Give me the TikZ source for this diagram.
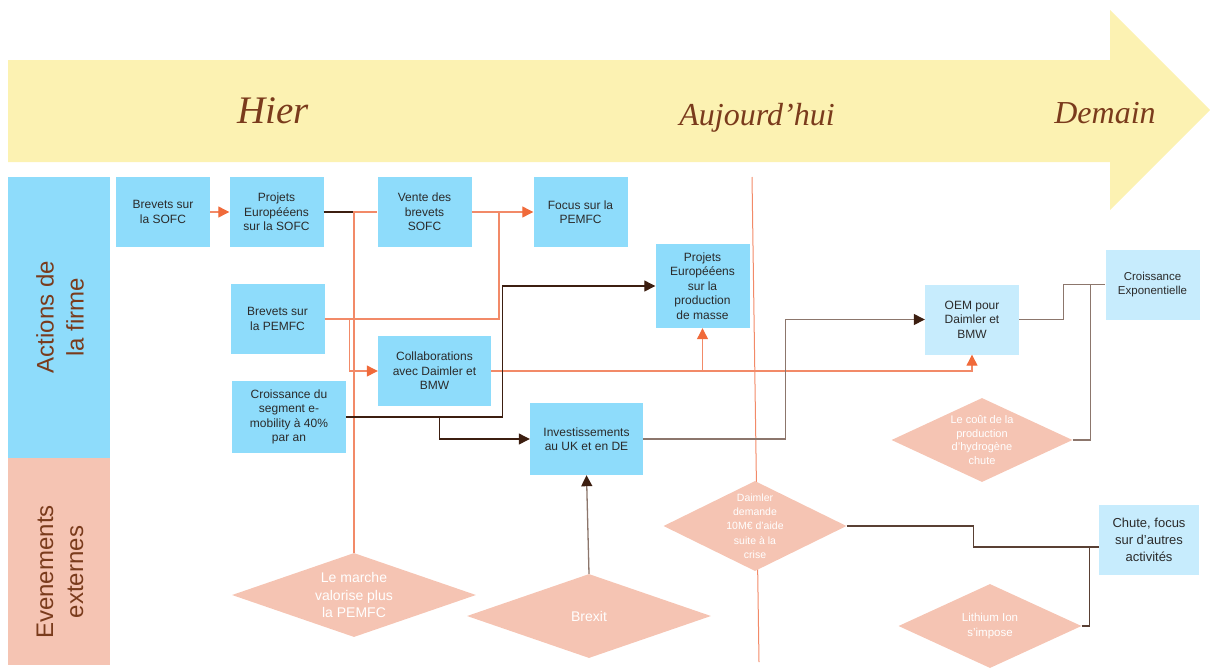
\documentclass[tikz,border=0pt]{standalone}
\usepackage{fontspec}
\setmainfont{Liberation Sans}
\newfontfamily\serifit{Liberation Serif}
\usetikzlibrary{shapes.geometric,arrows.meta}

\definecolor{bleu}{HTML}{8EDCFB}
\definecolor{bleuclair}{HTML}{C7ECFD}
\definecolor{saumon}{HTML}{F5C4B3}
\definecolor{jaune}{HTML}{FCF2B2}
\definecolor{brun}{HTML}{7A3B1C}
\definecolor{texte}{HTML}{2B2B2B}
\definecolor{corail}{HTML}{F28A68}
\definecolor{orangef}{HTML}{F06A3A}
\definecolor{sombre}{HTML}{3C1E10}
\definecolor{grisbrun}{HTML}{8C766C}

\begin{document}
\begin{tikzpicture}[
    x=1pt, y=-1pt,
    every node/.style={align=center, inner sep=0pt, text=texte,
        font=\fontsize{12}{14.5}\selectfont},
    boite/.style={rectangle, fill=bleu, minimum width=94pt, minimum height=70pt},
    boiteclair/.style={boite, fill=bleuclair},
    colonne/.style={rectangle, minimum width=102pt},
    titre/.style={rotate=90, text=brun, font=\fontsize{24}{30}\selectfont},
    temps/.style={anchor=base, text=brun, font=\serifit\itshape\fontsize{32}{36}\selectfont},
    losange/.style={diamond, fill=saumon, inner sep=0pt},
    txtlos/.style={text=white},
    lor/.style={draw=corail, line width=1.2pt},
    lorf/.style={lor, -{Triangle[length=11pt,width=11pt,color=orangef]}},
    lsom/.style={draw=sombre, line width=1.2pt},
    lsomf/.style={lsom, -{Triangle[length=11pt,width=11pt]}},
    lgris/.style={draw=grisbrun, line width=1.3pt},
    lgrisf/.style={lgris, -{Triangle[length=11pt,width=11pt,color=sombre]}}
]
    \useasboundingbox (0,0) rectangle (1210,667);

    % Fleche du temps
    \fill[jaune] (8,60) -- (1110,60) -- (1110,10) -- (1210,110)
        -- (1110,210) -- (1110,162) -- (8,162) -- cycle;
    \node[temps, font=\serifit\itshape\fontsize{39}{40}\selectfont] (hier) at (273,123) {Hier};
    \node[temps] (auj) at (757,125) {Aujourd’hui};
    \node[temps] (dem) at (1105,123) {Demain};

    % Colonnes
    \node[colonne, fill=bleu, minimum height=281pt] (actions) at (59,317.5) {};
    \node[colonne, fill=saumon, minimum height=207pt] (evts) at (59,561.5) {};
    \node[titre] (tact) at (60,317) {Actions de\\la firme};
    \node[titre] (tevt) at (60,572) {Evenements\\externes};

    % Aujourd'hui
    \coordinate (auj1) at (752,177);
    \coordinate (auj2) at (759,662);
    \draw[corail, line width=1pt] (auj1) -- (auj2);

    % Actions de la firme
    \node[boite] (bsofc)  at (163,212)   {Brevets sur\\la SOFC};
    \node[boite] (psofc)  at (276.5,212) {Projets\\Europééens\\sur la SOFC};
    \node[boite] (vente)  at (424.5,212) {Vente des\\brevets\\SOFC};
    \node[boite] (focus)  at (580.5,212) {Focus sur la\\PEMFC};
    \node[boite] (bpemfc) at (277.5,319) {Brevets sur\\la PEMFC};
    \node[boite, minimum width=113pt] (collab) at (434.5,371) {Collaborations\\avec Daimler et\\BMW};
    \node[boite, minimum width=114pt, minimum height=72pt] (cseg) at (289,417) {Croissance du\\segment e-\\mobility à 40\%\\par an};
    \node[boite, minimum height=84pt] (pmasse) at (702.5,286) {Projets\\Europééens\\sur la\\production\\de masse};
    \node[boite, minimum width=113pt, minimum height=72pt] (invest) at (586.5,439) {Investissements\\au UK et en DE};
    \node[boiteclair] (oem) at (972,319.5) {OEM pour\\Daimler et\\BMW};
    \node[boiteclair, font=\fontsize{11.5}{13.5}\selectfont] (cexp) at (1152.5,284.5) {Croissance\\Exponentielle};
    \node[boiteclair, minimum width=100pt, font=\fontsize{13}{17}\selectfont] (chute) at (1149,540) {Chute, focus\\sur d’autres\\activités};

    % Evenements externes
    \node[losange, minimum width=244pt, minimum height=84pt,
        label={[txtlos, font=\fontsize{14}{17.5}\selectfont]center:{Le marche\\valorise plus\\la PEMFC}}] (marche) at (354,595) {};
    \node[losange, minimum width=244pt, minimum height=84pt,
        label={[txtlos, font=\fontsize{14}{17}\selectfont]center:{Brexit}}] (brexit) at (589,616) {};
    \node[losange, minimum width=183pt, minimum height=90pt,
        label={[txtlos, font=\fontsize{10.5}{14.3}\selectfont]center:{Daimler\\demande\\10M€ d’aide\\suite à la\\crise}}] (daimler) at (755,526) {};
    \node[losange, minimum width=181pt, minimum height=84pt,
        label={[txtlos, font=\fontsize{11}{13.4}\selectfont]center:{Le coût de la\\production\\d’hydrogène\\chute}}] (cout) at (982,440) {};
    \node[losange, minimum width=183pt, minimum height=84pt,
        label={[txtlos, font=\fontsize{11.5}{15}\selectfont]center:{Lithium Ion\\s’impose}}] (lithium) at (990,626) {};

    % Liaisons
    \coordinate (j1) at (353,212);
    \coordinate (j2) at (499,212);
    \draw[lorf] (bsofc) -- (psofc);
    \draw[lor] (marche.north) |- (vente.west);
    \draw[lsom] (psofc.east) -- (j1);
    \draw[lorf] (vente) -- (focus);
    \draw[lor] (bpemfc.east) -| (j2);
    \draw[lorf] (bpemfc.east) -- ++(25,0) |- (collab.west);
    \draw[lorf] (collab.east) -| (pmasse.south);
    \draw[lorf] (collab.east) -| (oem.south);
    \draw[lsomf] (cseg.east) -- ++(156,0) |- (pmasse.west);
    \draw[lsomf] (cseg.east) -- ++(93,0) |- (invest.west);
    \draw[lgrisf] (invest.east) -- ++(142,0) |- (oem.west);
    \draw[lgrisf] (brexit.north) -- (invest.south);
    \draw[lgris] (oem.east) -- ++(44,0) |- (cexp.west);
    \draw[lgris] (cout.east) -- ++(18,0) |- (cexp.west);
    \draw[lsom, draw=sombre!85!white] (daimler.east) -- ++(127,0) |- ([yshift=-7pt]chute.west);
    \draw[lsom, draw=sombre!85!white] (lithium.east) -- ++(8,0) |- ([yshift=-7pt]chute.west);
\end{tikzpicture}
\end{document}
